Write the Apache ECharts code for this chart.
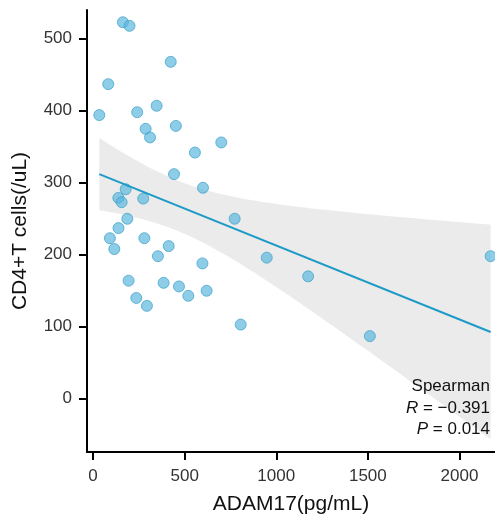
<!DOCTYPE html>
<html>
<head>
<meta charset="utf-8">
<script src="https://cdn.jsdelivr.net/npm/echarts@6/dist/echarts.min.js"></script>
<style>
  html, body { margin: 0; padding: 0; background: #fff; }
  #main { width: 495px; height: 516px; }
</style>
</head>
<body>
<div id="main"></div>
<script>
// ADAM17 vs CD4+T
var adam17 = [163, 199, 424, 83, 34, 241, 347, 287, 311, 452, 700, 556, 442, 600,
  178, 138, 156, 274, 187, 139, 92, 280, 116, 413, 354, 773, 597, 948, 194, 385,
  469, 620, 520, 236, 294, 806, 1174, 1511, 2170];
var cd4 = [523, 518, 468, 437, 394, 398, 407, 375, 363, 379, 356, 342, 312, 293,
  291, 279, 273, 278, 250, 237, 223, 223, 208, 212, 198, 250, 188, 196, 164, 161,
  156, 150, 143, 140, 129, 103, 170, 87, 198];
var xTicks = [0, 500, 1000, 1500, 2000];
var yTicks = [0, 100, 200, 300, 400, 500];
var statLines = ['Spearman', '{i|R} = \u22120.391', '{i|P} = 0.014'];

// simple lm fit + 95% band (like geom_smooth(method = 'lm'))
function fitLm(xs, ys) {
  var n = xs.length, mx = 0, my = 0;
  for (var i = 0; i < n; i++) { mx += xs[i]; my += ys[i]; }
  mx /= n; my /= n;
  var sxx = 0, sxy = 0;
  for (var i = 0; i < n; i++) {
    sxx += (xs[i] - mx) * (xs[i] - mx);
    sxy += (xs[i] - mx) * (ys[i] - my);
  }
  var b = sxy / sxx, a = my - b * mx;
  var sse = 0;
  for (var i = 0; i < n; i++) {
    var r = ys[i] - (a + b * xs[i]);
    sse += r * r;
  }
  var s = Math.sqrt(sse / (n - 2));
  return { a: a, b: b, s: s, n: n, mx: mx, sxx: sxx };
}
var fit = fitLm(adam17, cd4);
var tCrit = 2.026; // df = 37
var xLo = Math.min.apply(null, adam17), xHi = Math.max.apply(null, adam17);
var upper = [], lower = [];
for (var k = 0; k <= 80; k++) {
  var xv = xLo + (xHi - xLo) * k / 80;
  var yh = fit.a + fit.b * xv;
  var se = fit.s * Math.sqrt(1 / fit.n + (xv - fit.mx) * (xv - fit.mx) / fit.sxx);
  upper.push([xv, yh + tCrit * se]);
  lower.push([xv, yh - tCrit * se]);
}
var fitLine = [[xLo, fit.a + fit.b * xLo], [xHi, fit.a + fit.b * xHi]];
var points = adam17.map(function (v, i) { return [v, cd4[i]]; });

var myChart = echarts.init(document.getElementById('main'));
var font = 'Liberation Sans, Arial, sans-serif';

// stat text, one right-aligned line each
var statText = statLines.map(function (t, i) {
  return {
    type: 'text',
    right: 5,
    top: 378 + i * 21.5,
    z: 100,
    style: {
      text: t,
      fontFamily: font,
      fontSize: 17,
      fill: '#111',
      rich: { i: { fontStyle: 'italic', fontFamily: font, fontSize: 17, fill: '#111' } }
    }
  };
});

var option = {
  animation: false,
  grid: { left: 87, right: 0, top: 10, bottom: 64, outerBoundsMode: 'none', containLabel: false },
  xAxis: {
    type: 'value',
    min: -33, max: 2194,
    name: 'ADAM17(pg/mL)',
    nameLocation: 'middle',
    nameGap: 42,
    nameTextStyle: { fontFamily: font, fontSize: 21, color: '#111' },
    splitLine: { show: false },
    axisLine: { onZero: false, lineStyle: { color: '#000', width: 2 } },
    axisTick: { show: true, customValues: xTicks, length: 8, lineStyle: { color: '#000', width: 2 } },
    axisLabel: {
      customValues: xTicks, fontFamily: font, fontSize: 17, color: '#333', margin: 16,
      formatter: function (v) { return String(v); }
    }
  },
  yAxis: {
    type: 'value',
    min: -74, max: 540,
    name: 'CD4+T cells(/uL)',
    nameLocation: 'middle',
    nameGap: 56,
    nameTextStyle: { fontFamily: font, fontSize: 21, color: '#111' },
    splitLine: { show: false },
    axisLine: { show: true, onZero: false, lineStyle: { color: '#000', width: 2 } },
    axisTick: { show: true, customValues: yTicks, length: 8, lineStyle: { color: '#000', width: 2 } },
    axisLabel: {
      customValues: yTicks, fontFamily: font, fontSize: 17, color: '#333', margin: 15,
      formatter: function (v) { return String(v); }
    }
  },
  series: [
    {
      type: 'custom',
      name: 'ci',
      silent: true,
      z: 1,
      data: [[0, 0]],
      renderItem: function (params, api) {
        var pts = [];
        for (var i = 0; i < upper.length; i++) pts.push(api.coord(upper[i]));
        for (var j = lower.length - 1; j >= 0; j--) pts.push(api.coord(lower[j]));
        return {
          type: 'polygon',
          shape: { points: pts },
          style: { fill: '#EBEBEB' }
        };
      }
    },
    {
      type: 'scatter',
      name: 'pts',
      z: 2,
      symbolSize: 11,
      data: points,
      itemStyle: { color: 'rgba(88,182,222,0.85)', borderColor: 'rgba(60,160,200,0.9)', borderWidth: 1 }
    },
    {
      type: 'line',
      name: 'fit',
      z: 3,
      data: fitLine,
      showSymbol: false,
      lineStyle: { color: '#1E9AC7', width: 2 }
    }
  ],
  graphic: statText
};
myChart.setOption(option);
</script>
</body>
</html>
